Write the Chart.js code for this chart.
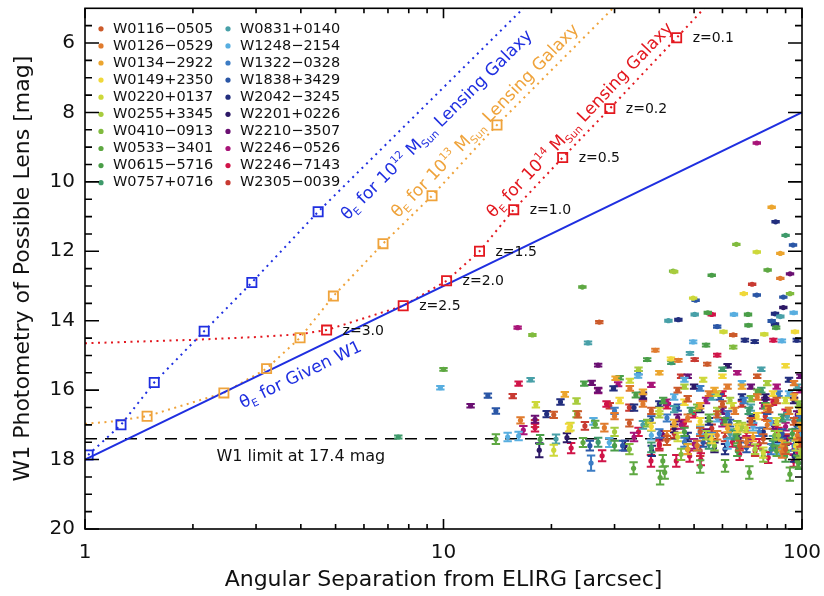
<!DOCTYPE html>
<html>
<head>
<meta charset="utf-8">
<script src="https://cdn.jsdelivr.net/npm/chart.js@4.4.1/dist/chart.umd.min.js"></script>
<style>
  html, body { margin: 0; padding: 0; background: #fff; }
</style>
</head>
<body>
<canvas id="lensChart" width="824" height="596"></canvas>
<script>
const FONT = 'DejaVu Sans'

// axis ticks
const xMajorTicks = [1, 10, 100]
const xMinorTicks = [2, 3, 4, 5, 6, 7, 8, 9, 20, 30, 40, 50, 60, 70, 80, 90]
const yMajorTicks = [6, 8, 10, 12, 14, 16, 18, 20]
const yMinorTicks = [5.5, 6.5, 7, 7.5, 8.5, 9, 9.5, 10.5, 11, 11.5, 12.5, 13, 13.5, 14.5, 15, 15.5,
  16.5, 17, 17.5, 18.5, 19, 19.5]

// theta_E curves: [separation arcsec, W1 mag]
const givenW1Line = [[1, 18], [100, 8]]
const mass12Curve = [[1.02, 17.87], [1.26, 17.0], [1.56, 15.78], [2.15, 14.3], [2.92, 12.9], [4.47, 10.86], [16.7, 5.0]]
const mass12Marks = [[1.02, 17.87], [1.26, 17.0], [1.56, 15.78], [2.15, 14.3], [2.92, 12.9], [4.47, 10.86]]
const mass13Curve = [[1, 16.97], [1.2, 16.9], [1.49, 16.75], [2.44, 16.08], [3.21, 15.38], [3.98, 14.49], [4.93, 13.29],
  [6.78, 11.78], [9.29, 10.4], [14.1, 8.36], [29.7, 5.0]]
const mass13Marks = [[1.49, 16.75], [2.44, 16.08], [3.21, 15.38], [3.98, 14.49], [4.93, 13.29], [6.78, 11.78], [9.29, 10.4], [14.1, 8.36]]
const mass14Curve = [[1, 14.65], [2, 14.55], [3, 14.47], [3.98, 14.39], [4.72, 14.27], [7.72, 13.57], [10.2, 12.85],
  [12.6, 12.0], [15.7, 10.8], [21.5, 9.3], [29.1, 7.89], [44.7, 5.85], [54, 4.94]]
const mass14Marks = [[4.72, 14.27], [7.72, 13.57], [10.2, 12.85], [12.6, 12.0], [15.7, 10.8], [21.5, 9.3], [29.1, 7.89], [44.7, 5.85]]
const redshifts = ['z=3.0', 'z=2.5', 'z=2.0', 'z=1.5', 'z=1.0', 'z=0.5', 'z=0.2', 'z=0.1']
const w1Limit = 17.4

// candidate lenses around each ELIRG: [separation arcsec, W1 mag, error]
const W0116_0505 = [[27.2, 14.04, .03], [64.3, 14.41, .03], [54.4, 15.25, .04], [20.3, 16.71, .09], [23.7, 16.7, .09], [45, 16.0, .07],
  [60, 16.4, .08], [72, 16.9, .1], [85, 16.3, .08], [95, 16.9, .1], [38, 16.6, .09], [52, 17.2, .12], [78, 17.4, .13], [90, 17.7, .14],
  [33, 16.95, .1], [42, 17.45, .13], [58, 16.7, .09], [67, 17.6, .14], [81, 16.55, .09], [99, 17.5, .13], [48, 16.25, .08], [75, 15.6, .05]]
const W0126_0529 = [[16.4, 16.87, .09], [28.1, 17.08, .11], [39.0, 14.85, .04], [45.2, 15.14, .04], [87.0, 12.78, .02], [33.1, 15.95, .07],
  [55, 16.1, .07], [65, 16.6, .09], [75, 16.2, .08], [92, 16.6, .09], [48, 16.8, .1], [58, 17.3, .12], [70, 17.5, .13], [97, 17.3, .12],
  [42, 17.3, .12], [36, 16.4, .08], [51, 17.6, .14], [62, 15.9, .06], [80, 17.0, .11], [88, 17.8, .15], [95, 15.8, .06], [30, 16.75, .09]]
const W0134_2922 = [[82.3, 10.73, .02], [87.0, 12.06, .02], [30.2, 15.66, .05], [21.8, 16.12, .07], [36, 16.05, .07], [52, 16.45, .08],
  [68, 15.9, .06], [80, 16.5, .09], [95, 16.2, .08], [62, 17.1, .11], [88, 17.6, .14], [44, 16.95, .1], [57, 16.0, .07], [73, 17.35, .12],
  [99, 17.05, .11], [48, 17.7, .14], [40, 15.5, .05]]
const W0149_2350 = [[68.8, 13.22, .02], [95.6, 14.32, .03], [43.1, 15.1, .04], [22.4, 17.08, .11], [31, 16.3, .08], [47, 16.35, .08],
  [60, 15.6, .05], [75, 16.75, .09], [90, 15.3, .05], [97, 17.5, .13], [56, 17.4, .13], [38, 17.05, .11], [66, 17.1, .11], [83, 16.1, .07],
  [99, 16.6, .09], [52, 16.9, .1]]
const W0220_0137 = [[74.8, 12.02, .02], [49.7, 13.35, .02], [60.4, 14.32, .03], [78.5, 14.39, .03], [18.1, 16.42, .08], [20.3, 17.73, .16],
  [22.6, 17.05, .11], [33.1, 15.73, .06], [40, 16.6, .09], [58, 16.1, .07], [70, 17.1, .11], [85, 16.9, .1], [96, 17.6, .14],
  [45, 17.35, .12], [64, 16.45, .08], [90, 16.3, .08], [53, 15.7, .06], [78, 17.8, .15]]
const W0255_3345 = [[44.0, 12.59, .02], [23.5, 16.31, .08], [35, 15.4, .05], [47, 15.9, .06], [63, 16.3, .08], [80, 15.8, .06],
  [92, 16.6, .09], [54, 17.3, .12], [74, 17.7, .14], [30, 17.2, .12], [40, 16.7, .09], [68, 17.05, .11], [86, 17.3, .12], [99, 17.8, .15],
  [58, 16.6, .09]]
const W0410_0913 = [[65.6, 11.8, .02], [43.7, 12.57, .02], [17.7, 14.41, .03], [92.6, 13.22, .02], [64.3, 14.76, .04], [23.5, 16.69, .09],
  [37, 16.95, .1], [51, 16.5, .09], [66, 17.0, .11], [84, 17.3, .12], [98, 16.4, .08], [46, 17.85, .16], [72, 16.25, .08], [57, 17.6, .14],
  [78, 17.9, .16], [90, 17.65, .14], [33, 17.7, .15]]
const W0533_3401 = [[24.4, 13.03, .02], [10.0, 15.4, .04], [14.0, 17.41, .14], [33.9, 18.25, .17], [41.4, 18.37, .18], [40.9, 18.04, .17],
  [40.2, 18.52, .2], [71.3, 18.37, .18], [61, 18.18, .17], [92.5, 18.42, .19], [24.5, 17.51, .13], [26.5, 16.98, .1], [80.2, 12.54, .02],
  [55, 16.8, .1], [75, 16.05, .07], [48, 17.7, .15], [85, 17.75, .15], [97, 18.05, .17], [66, 17.4, .13], [52, 18.2, .18]]
const W0615_5716 = [[56.0, 12.69, .02], [54.6, 13.77, .03], [70.7, 13.82, .03], [70.9, 14.13, .03], [84.7, 14.2, .03], [54.0, 14.7, .04],
  [37.0, 15.12, .04], [34.4, 16.14, .07], [31.0, 15.64, .05], [24.7, 15.81, .06], [18.6, 17.42, .13], [30, 17.6, .14], [47, 17.2, .12],
  [66, 17.75, .15], [90, 17.9, .16], [98, 18.1, .17], [41, 16.3, .08], [61, 16.9, .1], [79, 16.45, .08], [94, 17.25, .12]]
const W0757_0716 = [[90.0, 11.54, .02], [7.48, 17.35, .04], [43.2, 15.21, .04], [60, 15.4, .05], [77, 16.0, .07], [49, 16.6, .09],
  [88, 16.8, .1], [27, 17.5, .13], [65, 17.3, .12], [38, 17.65, .14], [55, 17.55, .14], [71, 16.6, .09], [99, 16.95, .1], [83, 17.6, .14]]
const W0831_0140 = [[25.3, 14.64, .04], [17.5, 15.7, .05], [50.2, 13.82, .03], [42.4, 14.0, .03], [87.0, 13.88, .03], [48.7, 14.94, .04],
  [20.6, 17.41, .13], [36, 17.0, .11], [56, 16.2, .08], [72, 16.5, .09], [83, 17.45, .13], [97, 15.9, .06], [44, 16.55, .09],
  [63, 17.25, .12], [91, 16.75, .1], [51, 17.6, .14], [77, 15.4, .05]]
const W1248_2154 = [[9.8, 15.93, .05], [15.1, 17.35, .12], [16.2, 17.32, .12], [34.9, 15.59, .05], [49.7, 14.61, .04], [64.6, 13.82, .03],
  [87.9, 14.58, .04], [94.8, 13.77, .03], [26.2, 16.9, .1], [29.0, 17.51, .13], [44, 16.2, .08], [58, 16.8, .1], [68, 15.8, .06],
  [82, 16.9, .1], [99, 17.3, .12], [38, 17.3, .12], [52, 17.15, .11], [73, 17.05, .11], [92, 16.1, .07], [62, 17.55, .14], [47, 15.7, .06],
  [86, 17.7, .15], [99, 16.6, .09]]
const W1322_0328 = [[25.8, 18.1, .22], [30, 16.6, .09], [42, 16.8, .1], [52, 15.95, .07], [62, 16.7, .09], [76, 17.2, .12],
  [86, 16.1, .07], [95, 17.6, .14], [47, 17.5, .13], [35, 15.5, .05], [56, 17.35, .12], [69, 16.3, .08], [82, 17.7, .15], [99, 16.85, .1],
  [40, 17.25, .12]]
const W1838_3429 = [[94.4, 11.82, .02], [13.3, 16.16, .06], [14.0, 16.6, .08], [74.8, 13.26, .02], [88.7, 13.32, .02], [50.5, 13.41, .02],
  [82.3, 14.01, .03], [58.0, 14.17, .03], [25.6, 17.6, .14], [31.6, 17.6, .14], [45, 16.5, .09], [63, 16.95, .1], [80, 16.6, .09],
  [96, 17.0, .11], [53, 17.5, .13], [70, 17.65, .14], [88, 17.25, .12], [38, 16.85, .1], [59, 16.2, .08]]
const W2042_3245 = [[84.4, 11.15, .02], [45.2, 13.97, .03], [84.1, 13.8, .03], [84.1, 14.1, .03], [69.3, 14.56, .04], [73.8, 14.6, .04],
  [96.7, 14.56, .04], [29.8, 15.95, .06], [19.4, 16.69, .09], [21.2, 16.34, .08], [38.1, 17.75, .15], [40, 16.4, .08], [55, 16.9, .1],
  [68, 16.2, .08], [78, 17.2, .12], [92, 15.7, .06], [99, 16.8, .1], [48, 17.35, .12], [61, 17.7, .15], [73, 16.85, .1], [86, 17.55, .14],
  [95, 17.9, .16], [34, 16.5, .09]]
const W2201_0226 = [[18.5, 17.73, .2], [22.1, 17.37, .13], [32.1, 17.6, .14], [88.7, 13.62, .02], [50, 15.9, .06], [62, 15.3, .05],
  [72, 16.8, .1], [85, 17.5, .13], [44, 17.1, .11], [95, 16.3, .08], [57, 17.65, .14], [36, 16.15, .08], [66, 17.3, .12], [79, 16.2, .08],
  [99, 17.3, .12], [52, 16.55, .09]]
const W2210_3507 = [[92.6, 12.65, .02], [27.0, 15.28, .04], [11.9, 16.45, .05], [25.9, 15.79, .06], [27.0, 16.0, .07], [18.0, 16.84, .1],
  [36, 16.2, .08], [48, 15.6, .05], [60, 16.6, .09], [72, 15.9, .06], [83, 17.0, .11], [97, 16.7, .09], [41, 17.3, .12], [54, 17.25, .12],
  [67, 17.5, .13], [79, 16.3, .08], [90, 17.45, .13], [45, 16.8, .1], [99, 15.6, .05]]
const W2246_0526 = [[74.8, 8.88, .02], [16.1, 14.2, .03], [16.7, 17.15, .12], [30.7, 15.83, .06], [27.0, 16.02, .07], [38, 15.85, .06],
  [54, 16.3, .08], [66, 15.5, .05], [78, 16.45, .08], [90, 17.05, .11], [46, 17.0, .11], [99, 16.0, .07], [34, 17.35, .12], [50, 17.55, .14],
  [60, 16.95, .1], [72, 17.45, .13], [85, 15.9, .06], [95, 17.7, .15], [42, 16.35, .08]]
const W2246_7143 = [[16.2, 15.81, .06], [56.0, 13.82, .03], [83.2, 14.56, .04], [58.0, 14.99, .04], [22.7, 17.67, .15], [27.7, 17.89, .16],
  [18.0, 17.08, .11], [28.5, 16.4, .08], [37.9, 18.04, .17], [44.6, 18.04, .17], [48.6, 17.9, .16], [52.2, 17.99, .17], [80.5, 17.94, .16],
  [94.8, 18.04, .17], [35, 17.2, .12], [50, 16.7, .09], [64, 17.5, .13], [73, 16.9, .1], [86, 17.2, .12], [97, 17.75, .15], [60, 16.1, .07],
  [42, 16.45, .08], [40, 17.55, .14], [55, 17.4, .13], [67, 17.85, .16], [76, 17.55, .14], [90, 16.65, .09], [99, 17.35, .12],
  [47, 16.95, .1], [62, 16.7, .09], [83, 16.35, .08], [70, 17.2, .12]]
const W2305_0039 = [[15.6, 16.17, .06], [72.6, 12.95, .02], [50.2, 15.12, .04], [24.8, 17.03, .11], [29.1, 16.45, .08], [18.0, 16.96, .1],
  [40, 17.6, .14], [56, 17.1, .11], [68, 16.4, .08], [79, 16.75, .1], [91, 17.4, .13], [99, 16.5, .09], [33, 16.5, .09], [46, 15.6, .05],
  [52, 17.75, .15], [61, 17.35, .12], [74, 17.75, .15], [85, 17.0, .11], [95, 16.15, .07], [44, 17.25, .12]]

const sourceNames = ['W0116−0505', 'W0126−0529', 'W0134−2922', 'W0149+2350', 'W0220+0137', 'W0255+3345', 'W0410−0913',
  'W0533−3401', 'W0615−5716', 'W0757+0716', 'W0831+0140', 'W1248−2154', 'W1322−0328', 'W1838+3429', 'W2042−3245',
  'W2201+0226', 'W2210−3507', 'W2246−0526', 'W2246−7143', 'W2305−0039']
const sourceData = [W0116_0505, W0126_0529, W0134_2922, W0149_2350, W0220_0137, W0255_3345, W0410_0913, W0533_3401,
  W0615_5716, W0757_0716, W0831_0140, W1248_2154, W1322_0328, W1838_3429, W2042_3245, W2201_0226, W2210_3507,
  W2246_0526, W2246_7143, W2305_0039]
const sourceColors = ['#cc5a2a', '#e07b2e', '#eca52e', '#f0d83a', '#cdd83a', '#a8cc3e', '#80bb3e', '#5ea842', '#4a9e48', '#3e9a6a',
  '#48a0a8', '#58aee0', '#3c7cc4', '#2a56a6', '#222e7e', '#2c1866', '#6a0f72', '#a81478', '#d01448', '#c83a32']

const BLUE = '#1f2fe0'
const ORANGE = '#efa33b'
const RED = '#e3181f'

const xy = arr => arr.map(p => ({ x: p[0], y: p[1] }))

function curve (data, color, dotted) {
  return {
    type: 'line', data: xy(data), borderColor: color, borderWidth: 2,
    borderDash: dotted ? [2, 4.5] : [], pointRadius: 0, showLine: true, tension: 0, order: 3
  }
}

function marks (data, color) {
  return {
    type: 'scatter', data: xy(data), pointStyle: 'rect', pointRadius: 6.5,
    borderColor: color, borderWidth: 1.8, backgroundColor: 'rgba(0,0,0,0)', order: 2
  }
}

const datasets = [
  curve(givenW1Line, BLUE, false),
  curve(mass12Curve, BLUE, true),
  curve(mass13Curve, ORANGE, true),
  curve(mass14Curve, RED, true),
  { type: 'line', data: xy([[1, w1Limit], [100, w1Limit]]), borderColor: '#000', borderWidth: 1.6,
    borderDash: [12, 8], pointRadius: 0, showLine: true, order: 4 },
  marks(mass12Marks, BLUE),
  marks(mass13Marks, ORANGE),
  marks(mass14Marks, RED)
]

sourceData.forEach((arr, i) => {
  datasets.push({
    type: 'scatter', label: sourceNames[i], errorBars: true,
    data: arr.map(p => ({ x: p[0], y: p[1], e: p[2] })),
    backgroundColor: sourceColors[i], borderWidth: 0, pointRadius: 2.6, order: 1
  })
})

function richText (ctx, parts, size, cx, cy, angle, color) {
  ctx.save()
  ctx.translate(cx, cy)
  ctx.rotate(angle)
  ctx.fillStyle = color
  ctx.textBaseline = 'alphabetic'
  let w = 0
  parts.forEach(p => { ctx.font = `${size * (p.s || 1)}px "${FONT}"`; w += ctx.measureText(p.t).width })
  let x = -w / 2
  parts.forEach(p => {
    ctx.font = `${size * (p.s || 1)}px "${FONT}"`
    ctx.fillText(p.t, x, size * 0.36 + (p.dy || 0) * size)
    x += ctx.measureText(p.t).width
  })
  ctx.restore()
}

const sub = t => ({ t, s: 0.62, dy: 0.22 })
const sup = t => ({ t, s: 0.62, dy: -0.42 })
const massLabel = exp => [{ t: 'θ' }, sub('E'), { t: ' for 10' }, sup(exp), { t: ' M' }, sub('Sun'), { t: ' Lensing Galaxy' }]

// labels along the curves: anchor and a segment giving the direction
const curveLabels = [
  { parts: massLabel('12'), color: BLUE, at: [9.53, 8.34], dir: [mass12Marks[5], [16.7, 5.0]] },
  { parts: massLabel('13'), color: ORANGE, at: [13.0, 8.22], dir: [[9.29, 10.4], [29.7, 5.0]] },
  { parts: massLabel('14'), color: RED, at: [23.9, 8.2], dir: [[15.7, 10.8], [44.7, 5.85]] },
  { parts: [{ t: 'θ' }, sub('E'), { t: ' for Given W1' }], color: BLUE, at: [3.98, 15.53], dir: givenW1Line }
]

const annotations = {
  id: 'annotations',
  beforeDatasetDraw (chart, args) {
    const ds = chart.data.datasets[args.index]
    if (!ds.errorBars) return
    const { ctx, chartArea: a, scales: { y } } = chart
    ctx.save()
    ctx.beginPath()
    ctx.rect(a.left, a.top, a.right - a.left, a.bottom - a.top)
    ctx.clip()
    ctx.strokeStyle = ds.backgroundColor
    ctx.lineWidth = 2
    args.meta.data.forEach((el, i) => {
      const d = ds.data[i]
      const y0 = y.getPixelForValue(d.y - d.e)
      const y1 = y.getPixelForValue(d.y + d.e)
      ctx.beginPath()
      ctx.moveTo(el.x, y0); ctx.lineTo(el.x, y1)
      ctx.moveTo(el.x - 4.2, y0); ctx.lineTo(el.x + 4.2, y0)
      ctx.moveTo(el.x - 4.2, y1); ctx.lineTo(el.x + 4.2, y1)
      ctx.stroke()
    })
    ctx.restore()
  },
  afterDatasetsDraw (chart) {
    const { ctx, chartArea: a, scales: { x, y } } = chart
    const px = p => [x.getPixelForValue(p[0]), y.getPixelForValue(p[1])]

    // curve labels
    curveLabels.forEach(l => {
      const [x0, y0] = px(l.dir[0])
      const [x1, y1] = px(l.dir[1])
      const [cx, cy] = px(l.at)
      richText(ctx, l.parts, 17, cx, cy, Math.atan2(y1 - y0, x1 - x0), l.color)
    })

    // redshift labels next to the 10^14 squares
    ctx.save()
    ctx.fillStyle = '#111'
    ctx.font = `14px "${FONT}"`
    ctx.textBaseline = 'middle'
    mass14Marks.forEach((m, i) => {
      const [mx, my] = px(m)
      ctx.fillText(redshifts[i], mx + 16, my + 1)
    })
    ctx.font = `16px "${FONT}"`
    ctx.textAlign = 'center'
    const [lx, ly] = px([4.0, 17.92])
    ctx.fillText('W1 limit at 17.4 mag', lx, ly)
    ctx.restore()

    // legend, two columns
    ctx.save()
    ctx.font = `14.5px "${FONT}"`
    ctx.textBaseline = 'middle'
    sourceNames.forEach((name, i) => {
      const col = Math.floor(i / 10)
      const row = i % 10
      const dx = a.left + 16 + col * 127
      const dy = a.top + 20.5 + row * 17.1
      ctx.fillStyle = sourceColors[i]
      ctx.beginPath()
      ctx.arc(dx, dy, 2.6, 0, Math.PI * 2)
      ctx.fill()
      ctx.fillStyle = '#111'
      ctx.fillText(name, dx + 12, dy)
    })
    ctx.restore()

    // frame and inward ticks on all four sides
    ctx.save()
    ctx.strokeStyle = '#000'
    ctx.lineWidth = 1.6
    ctx.strokeRect(a.left, a.top, a.right - a.left, a.bottom - a.top)
    ctx.beginPath()
    const xTick = (v, len) => {
      const p = x.getPixelForValue(v)
      ctx.moveTo(p, a.bottom); ctx.lineTo(p, a.bottom - len)
      ctx.moveTo(p, a.top); ctx.lineTo(p, a.top + len)
    }
    const yTick = (v, len) => {
      const p = y.getPixelForValue(v)
      ctx.moveTo(a.left, p); ctx.lineTo(a.left + len, p)
      ctx.moveTo(a.right, p); ctx.lineTo(a.right - len, p)
    }
    xMajorTicks.forEach(v => xTick(v, 10))
    xMinorTicks.forEach(v => xTick(v, 5))
    yMajorTicks.forEach(v => yTick(v, 14))
    yMinorTicks.forEach(v => yTick(v, 7))
    ctx.stroke()
    ctx.restore()
  }
}

new Chart(document.getElementById('lensChart'), {
  type: 'scatter',
  data: { datasets },
  options: {
    responsive: false,
    animation: false,
    devicePixelRatio: 1,
    events: [],
    layout: { padding: { top: 7, right: 22, left: 0, bottom: 0 } },
    plugins: { legend: { display: false }, tooltip: { enabled: false } },
    scales: {
      x: {
        type: 'logarithmic', min: 1, max: 100,
        grid: { display: false, drawTicks: false },
        border: { display: false },
        afterBuildTicks: s => { s.ticks = xMajorTicks.map(v => ({ value: v })) },
        afterFit: s => { s.height = 67; s.paddingLeft = 0; s.paddingRight = 0 },
        ticks: { padding: 12, color: '#111', font: { family: FONT, size: 20 }, maxRotation: 0, autoSkip: false, callback: v => String(v) },
        title: { display: true, text: 'Angular Separation from ELIRG [arcsec]', color: '#111', font: { family: FONT, size: 22 }, padding: { bottom: 3 } }
      },
      y: {
        min: 5, max: 20, reverse: true,
        grid: { display: false, drawTicks: false },
        border: { display: false },
        afterBuildTicks: s => { s.ticks = yMajorTicks.map(v => ({ value: v })) },
        afterFit: s => { s.width = 85; s.paddingTop = 0; s.paddingBottom = 0 },
        ticks: { padding: 10, color: '#111', font: { family: FONT, size: 20 }, callback: v => String(v) },
        title: { display: true, text: 'W1 Photometry of Possible Lens [mag]', color: '#111', font: { family: FONT, size: 22 }, padding: { top: 10 } }
      }
    }
  },
  plugins: [annotations]
})
</script>
</body>
</html>
